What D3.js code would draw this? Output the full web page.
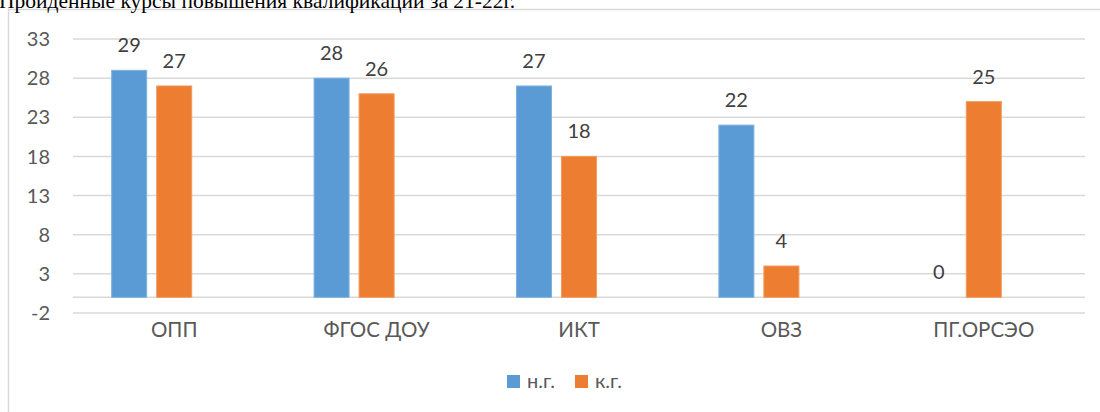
<!DOCTYPE html>
<html>
<head>
<meta charset="utf-8">
<script src="https://cdn.jsdelivr.net/npm/d3@7"></script>
<style>
  body { margin: 0; background: #fff; }
  svg { display: block; }
</style>
</head>
<body>
<svg width="1100" height="412"></svg>
<script>
var categories = ["ОПП", "ФГОС ДОУ", "ИКТ", "ОВЗ", "ПГ.ОРСЭО"];
var seriesNames = ["н.г.", "к.г."];
var startValues = [29, 28, 27, 22, 0];   // н.г.
var endValues = [27, 26, 18, 4, 25];     // к.г.
var yTicks = [-2, 3, 8, 13, 18, 23, 28, 33];
var title = "Пройденные курсы повышения квалификации за 21-22г.";

var colors = ["#5b9bd5", "#ed7d31"],
    edge = ["#7fb2e0", "#f39a5c"];

var svg = d3.select("svg"),
    font = "Lato, 'Open Sans', sans-serif";

// chart frame (goes off the right and bottom of the picture)
svg.append("path")
    .attr("d", "M8.5,412 V9.5 H1100")
    .attr("fill", "none")
    .attr("stroke", "#d9d9d9")
    .attr("stroke-width", 1.5);

// title, cut off at the top like in the document
svg.append("text")
    .attr("x", -1)
    .attr("y", 7.5)
    .attr("font-family", "'Liberation Serif', 'Times New Roman', serif")
    .attr("font-size", 21.5)
    .attr("fill", "#000")
    .text(title);

var y = d3.scaleLinear()
    .domain([yTicks[0], yTicks[yTicks.length - 1]])
    .range([313, 39]);

var x0 = d3.scaleBand()
    .domain(categories)
    .range([73, 1085]);

// Excel keeps a slot for a third (empty) series, so the pair sits left of centre
var bw = x0.bandwidth();
var x1 = d3.scaleBand()
    .domain([0, 1, 2])
    .range([bw * 0.191, bw * 0.809])
    .paddingInner(0.222);

var grid = svg.append("g");
grid.selectAll("line")
    .data(yTicks.concat([0]))
  .enter().append("line")
    .attr("x1", 73)
    .attr("x2", 1085)
    .attr("y1", function(d) { return y(d); })
    .attr("y2", function(d) { return y(d); })
    .attr("stroke", "#d9d9d9")
    .attr("stroke-width", 1.5);

svg.append("g").selectAll("text")
    .data(yTicks)
  .enter().append("text")
    .attr("x", 50)
    .attr("y", function(d) { return y(d); })
    .attr("dy", "0.36em")
    .attr("text-anchor", "end")
    .attr("font-family", font)
    .attr("font-size", 20)
    .attr("fill", "#595959")
    .text(function(d) { return d; });

svg.append("g").selectAll("text")
    .data(categories)
  .enter().append("text")
    .attr("x", function(d) { return x0(d) + bw / 2; })
    .attr("y", 336.5)
    .attr("text-anchor", "middle")
    .attr("font-family", font)
    .attr("font-size", 20.5)
    .attr("fill", "#595959")
    .text(function(d) { return d; });

var series = [startValues, endValues];

series.forEach(function(vals, s) {
  var g = svg.append("g");
  g.selectAll("rect")
      .data(vals)
    .enter().append("rect")
      .attr("x", function(d, i) { return x0(categories[i]) + x1(s); })
      .attr("y", function(d) { return y(Math.max(d, 0)); })
      .attr("width", x1.bandwidth())
      .attr("height", function(d) { return Math.abs(y(d) - y(0)); })
      .attr("fill", colors[s])
      .attr("stroke", function(d) { return d ? edge[s] : "none"; })
      .attr("stroke-width", 1);

  g.selectAll("text")
      .data(vals)
    .enter().append("text")
      .attr("x", function(d, i) { return x0(categories[i]) + x1(s) + x1.bandwidth() / 2; })
      .attr("y", function(d) { return y(d) - 18; })
      .attr("text-anchor", "middle")
      .attr("font-family", font)
      .attr("font-size", 20)
      .attr("fill", "#404040")
      .text(function(d) { return d; });
});

// legend
var legend = svg.append("g");
var lx = [507, 575];
seriesNames.forEach(function(name, s) {
  legend.append("rect")
      .attr("x", lx[s])
      .attr("y", 375)
      .attr("width", 13)
      .attr("height", 13)
      .attr("fill", colors[s]);
  legend.append("text")
      .attr("x", lx[s] + 20)
      .attr("y", 388)
      .attr("font-family", font)
      .attr("font-size", 20)
      .attr("fill", "#595959")
      .text(name);
});
</script>
</body>
</html>
